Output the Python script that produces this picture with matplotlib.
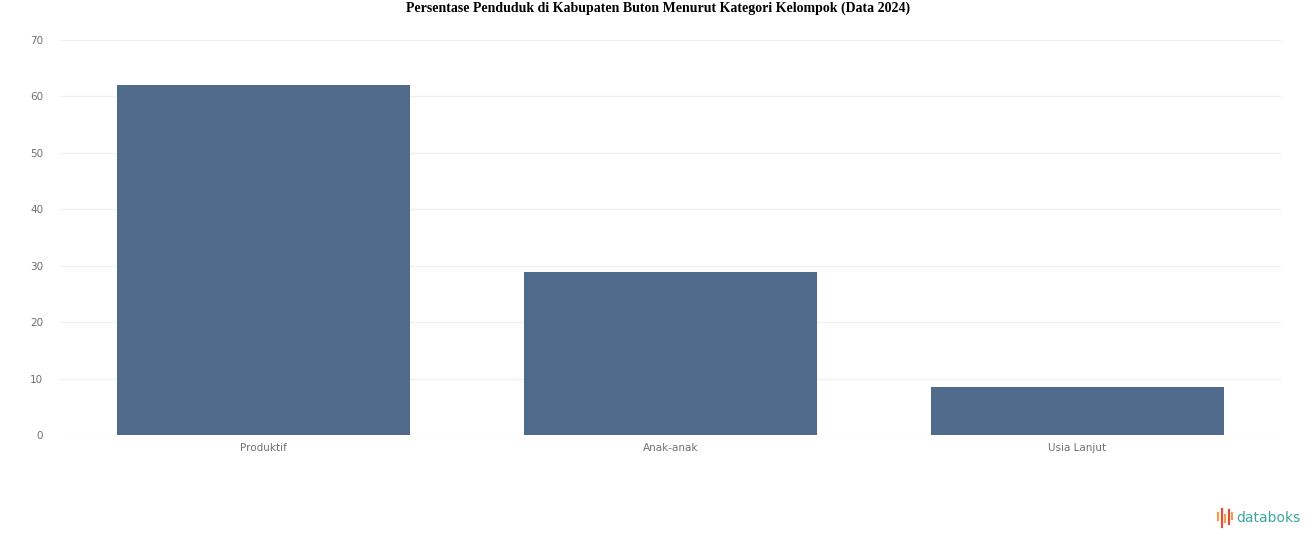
import matplotlib.pyplot as plt
from matplotlib.lines import Line2D

categories = ['Produktif', 'Anak-anak', 'Usia Lanjut']
values = [62.1, 28.9, 8.5]
yticks = [0, 10, 20, 30, 40, 50, 60, 70]

fig = plt.figure(figsize=(13.16, 5.47), dpi=100)
ax = fig.add_axes([0.0456, 0.2048, 0.9278, 0.7221])

x = range(len(categories))
ax.bar(x, values, width=0.72, color='#506a8b', zorder=2)

ax.set_xlim(-0.5, 2.5)
ax.set_ylim(0, 70)
ax.set_yticks(yticks)
ax.set_yticklabels([str(t) for t in yticks])
ax.set_xticks(list(x))
ax.set_xticklabels(categories)
ax.tick_params(axis='both', length=0, labelsize=7.5, colors='#707070')
ax.tick_params(axis='y', pad=12)
ax.tick_params(axis='x', pad=6)
ax.grid(axis='y', color='#f0f0f0', linewidth=1, zorder=0)
for s in ax.spines.values():
    s.set_visible(False)

fig.text(0.5, 0.997, 'Persentase Penduduk di Kabupaten Buton Menurut Kategori Kelompok (Data 2024)',
         ha='center', va='top', fontsize=10, fontweight='bold', family='Liberation Serif')

# databoks logo
bars_x = [1218, 1221.5, 1225, 1228.5, 1232]
bars_top = [513, 509, 515, 510, 513]
bars_bot = [520, 527, 522, 524, 519]
bars_c = ['#f0a04b', '#e0513a', '#f0a04b', '#e0513a', '#f0a04b']
for bx, bt, bb, bc in zip(bars_x, bars_top, bars_bot, bars_c):
    fig.add_artist(Line2D([bx / 1316, bx / 1316], [1 - bt / 547, 1 - bb / 547],
                          color=bc, linewidth=1.6, transform=fig.transFigure))
fig.text(1236 / 1316, 1 - 518 / 547, 'databoks', ha='left', va='center',
         fontsize=10, color='#3ba7a0', family='DejaVu Sans')

fig.savefig('out.png', dpi=100)
